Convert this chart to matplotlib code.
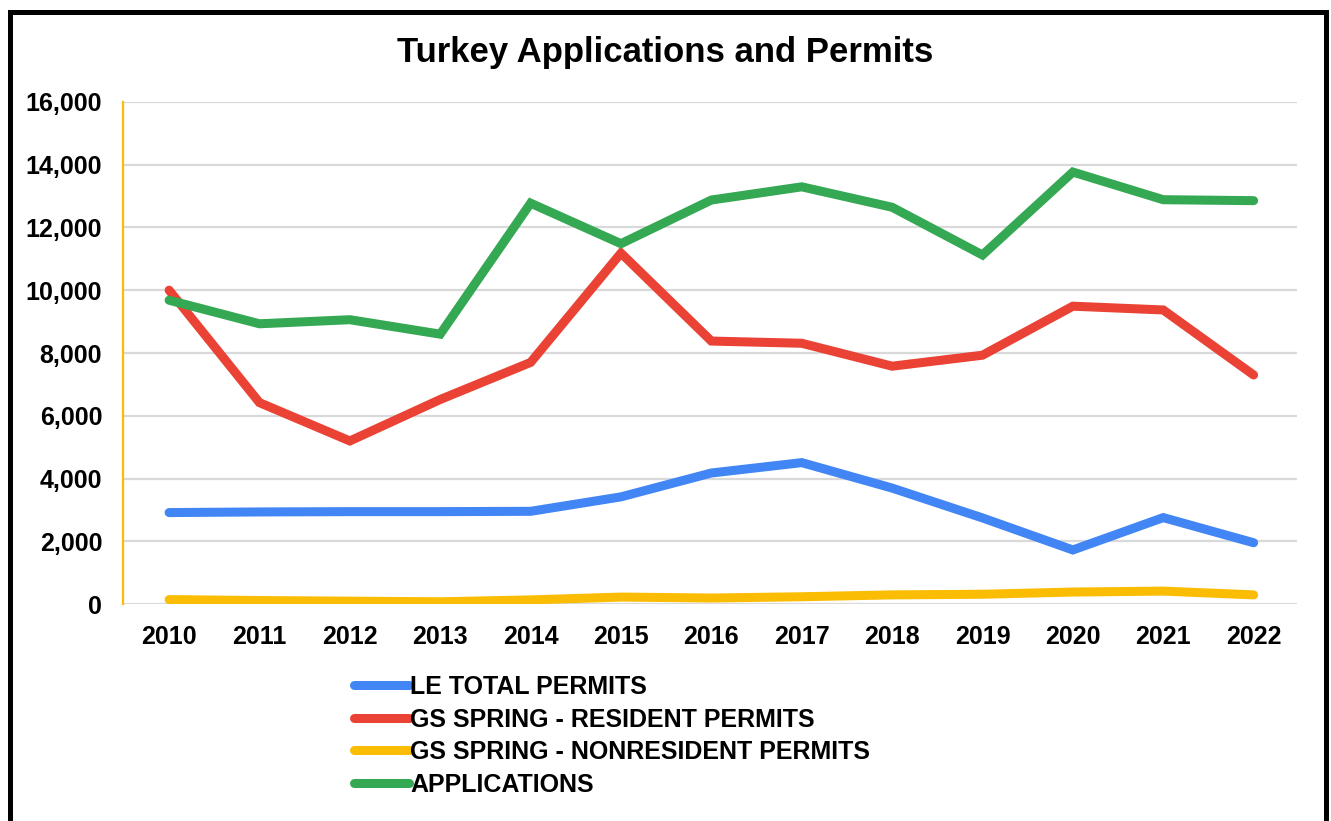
import matplotlib
matplotlib.use("Agg")
import matplotlib.pyplot as plt
from matplotlib.patches import Rectangle

years = [2010, 2011, 2012, 2013, 2014, 2015, 2016, 2017, 2018, 2019, 2020, 2021, 2022]
le_total = [2920, 2940, 2950, 2950, 2960, 3420, 4180, 4510, 3700, 2750, 1730, 2760, 1960]
gs_resident = [10000, 6420, 5200, 6520, 7700, 11180, 8380, 8310, 7580, 7930, 9490, 9370, 7300]
gs_nonresident = [150, 120, 100, 80, 140, 230, 200, 240, 300, 320, 390, 420, 300]
applications = [9680, 8930, 9060, 8600, 12770, 11480, 12870, 13290, 12640, 11120, 13760, 12880, 12850]

series_labels = ["LE TOTAL PERMITS", "GS SPRING - RESIDENT PERMITS",
                 "GS SPRING - NONRESIDENT PERMITS", "APPLICATIONS"]
colors = ["#4285F4", "#EA4335", "#FBBC04", "#34A853"]
yticks = [0, 2000, 4000, 6000, 8000, 10000, 12000, 14000, 16000]
title = "Turkey Applications and Permits"

plt.rcParams['font.family'] = ['Liberation Sans', 'DejaVu Sans']
plt.rcParams['font.weight'] = 'bold'

W, H = 1331, 821
fig = plt.figure(figsize=(W / 100, H / 100), dpi=100)
fig.patch.set_facecolor('white')

left, right, top, bottom = 123 / W, 1297 / W, 1 - 101.7 / H, 1 - 604.3 / H
ax = fig.add_axes([left, bottom, right - left, top - bottom])

for vals, lab, col in zip([le_total, gs_resident, gs_nonresident, applications], series_labels, colors):
    ax.plot(years, vals, color=col, lw=6.5, label=lab, solid_capstyle='round',
            solid_joinstyle='miter', zorder=3)

ax.set_xlim(2009.49, 2022.48)
ax.set_ylim(0, 16000)
ax.set_yticks(yticks)
ax.set_yticklabels([f"{v:,}" for v in yticks])
ax.set_xticks(years)
ax.set_xticklabels([str(y) for y in years])
ax.tick_params(axis='both', length=0, labelsize=18, pad=15)
for lab in ax.get_xticklabels() + ax.get_yticklabels():
    lab.set_fontweight('bold')
ax.grid(axis='y', color='#D9D9D9', lw=1.6, zorder=0)
ax.set_axisbelow(True)
for s in ['top', 'right', 'bottom']:
    ax.spines[s].set_visible(False)
ax.spines['left'].set_color('#FBBC04')
ax.spines['left'].set_linewidth(1.6)

fig.text(0.5, 1 - 62 / H, title, ha='center', va='baseline', fontsize=25, fontweight='bold')

leg = fig.legend(loc='upper left', bbox_to_anchor=(354 / W, 1 - 675 / H), frameon=False,
                 handlelength=2.2, handletextpad=0.05, labelspacing=0.34,
                 borderpad=0, borderaxespad=0, prop={'weight': 'bold', 'size': 18})
for line in leg.get_lines():
    line.set_linewidth(6.5)
    line.set_solid_capstyle('round')

fig.add_artist(Rectangle((9.5 / W, -0.1), (1325.5 - 9.5) / W, 1.1 - 12 / H,
                         transform=fig.transFigure, fill=False, edgecolor='black', lw=3.6))

fig.savefig("out.png", dpi=100, facecolor='white')
